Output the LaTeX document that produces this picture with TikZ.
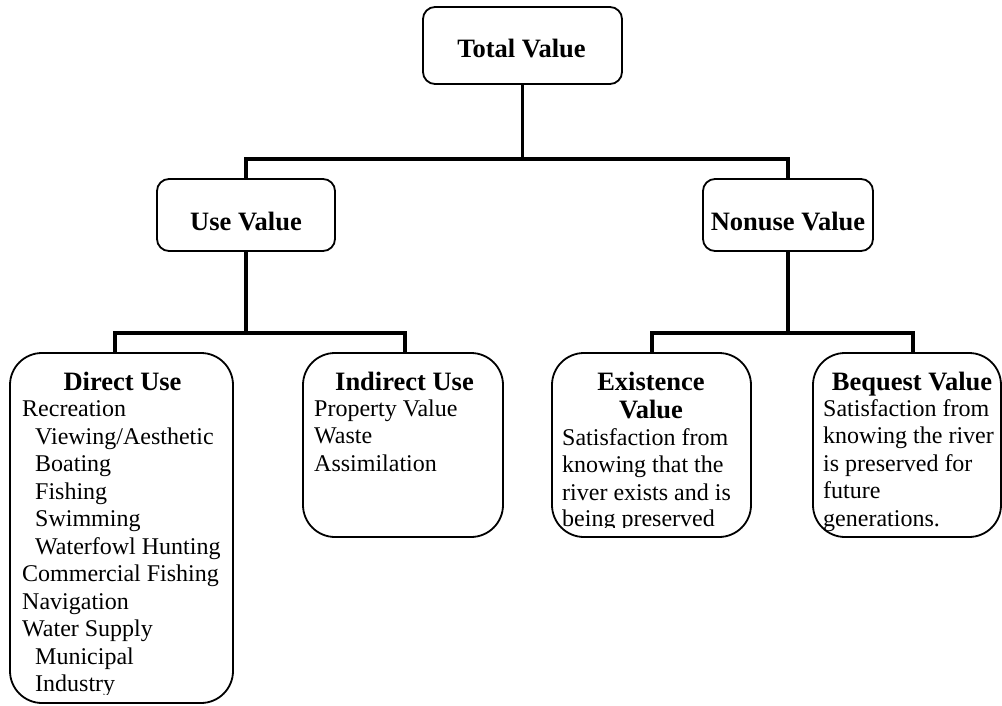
\documentclass[tikz,border=0pt]{standalone}
\usepackage{fontspec}
\setmainfont{Liberation Serif}
\newcommand\bodyf{\fontsize{24}{27.5}\selectfont}
\newcommand\titlef{\fontsize{26.5}{28}\selectfont\bfseries}
\tikzset{
  topbox/.style={draw, line width=1.8pt, rounded corners=12pt, inner sep=0pt},
  lowbox/.style={draw, line width=1.8pt, rounded corners=32pt, inner sep=0pt},
  conn/.style={line width=3.4pt},
  ttl/.style={inner sep=0pt, anchor=base, font=\titlef},
  txt/.style={inner sep=0pt, anchor=base west, font=\bodyf},
}
\begin{document}
\begin{tikzpicture}[x=1pt,y=-1pt]
\useasboundingbox (0,0) rectangle (1002,706);
% boxes
\node[topbox, minimum width=199pt, minimum height=77pt] (total) at (522.5,45.5) {};
\node[topbox, minimum width=178pt, minimum height=72pt] (use) at (246,215) {};
\node[topbox, minimum width=170pt, minimum height=72pt] (nonuse) at (788,215) {};
\node[lowbox, minimum width=223pt, minimum height=350pt] (direct) at (121.5,528) {};
\node[lowbox, minimum width=200pt, minimum height=184pt] (indirect) at (403,445) {};
\node[lowbox, minimum width=199pt, minimum height=184pt] (exist) at (651.5,445) {};
\node[lowbox, minimum width=188pt, minimum height=184pt] (bequest) at (907,445) {};
% connectors
\coordinate (bus1) at (522.5,159);
\coordinate (bus2) at (246,333);
\coordinate (bus3) at (788,333);
\coordinate (dtop) at (115,353);
\coordinate (itop) at (405,353);
\coordinate (etop) at (652,353);
\coordinate (btop) at (913,353);
\draw[conn] (total.south) -- (bus1);
\draw[conn] (use.north) -- (use.north |- bus1) -- (nonuse.north |- bus1) -- (nonuse.north);
\draw[conn] (use.south) -- (bus2);
\draw[conn] (dtop) -- (dtop |- bus2) -- (itop |- bus2) -- (itop);
\draw[conn] (nonuse.south) -- (bus3);
\draw[conn] (etop) -- (etop |- bus3) -- (btop |- bus3) -- (btop);
% titles
\node[ttl] (tTotal) at (521.5,58) {Total Value};
\node[ttl] (tUse) at (246,230) {Use Value};
\node[ttl] (tNonuse) at (788,230) {Nonuse Value};
\node[ttl] (tDirect) at (122.5,390) {Direct Use};
\node[ttl] (tIndirect) at (404.5,390) {Indirect Use};
\node[ttl] (tExist1) at (651,390) {Existence};
\node[ttl] (tExist2) at (651,418) {Value};
\node[ttl] (tBequest) at (912,390) {Bequest Value};
% direct use body
\begin{scope}
\clip (10,353) rectangle (233,694);
\node[txt] (d1) at (22,416.7) {Recreation};
\node[txt] (d2) at (35,444.2) {Viewing/Aesthetic};
\node[txt] (d3) at (35,471.7) {Boating};
\node[txt] (d4) at (35,499.2) {Fishing};
\node[txt] (d5) at (35,526.7) {Swimming};
\node[txt] (d6) at (35,554.2) {Waterfowl Hunting};
\node[txt] (d7) at (22,581.7) {Commercial Fishing};
\node[txt] (d8) at (22,609.2) {Navigation};
\node[txt] (d9) at (22,636.7) {Water Supply};
\node[txt] (d10) at (35,664.2) {Municipal};
\node[txt] (d11) at (35,691.7) {Industry};
\end{scope}
% indirect body
\node[txt] (i1) at (314,416) {Property Value};
\node[txt] (i2) at (314,443.5) {Waste};
\node[txt] (i3) at (314,471) {Assimilation};
% existence body
\begin{scope}
\clip (552,353) rectangle (751,527);
\node[txt] (e1) at (562,445) {Satisfaction from};
\node[txt] (e2) at (562,472.5) {knowing that the};
\node[txt] (e3) at (562,500) {river exists and is};
\node[txt] (e4) at (562,526) {being preserved};
\end{scope}
% bequest body
\node[txt] (b1) at (823,416) {Satisfaction from};
\node[txt] (b2) at (823,443.5) {knowing the river};
\node[txt] (b3) at (823,471) {is preserved for};
\node[txt] (b4) at (823,498.5) {future};
\node[txt] (b5) at (823,526) {generations.};
\end{tikzpicture}
\end{document}
